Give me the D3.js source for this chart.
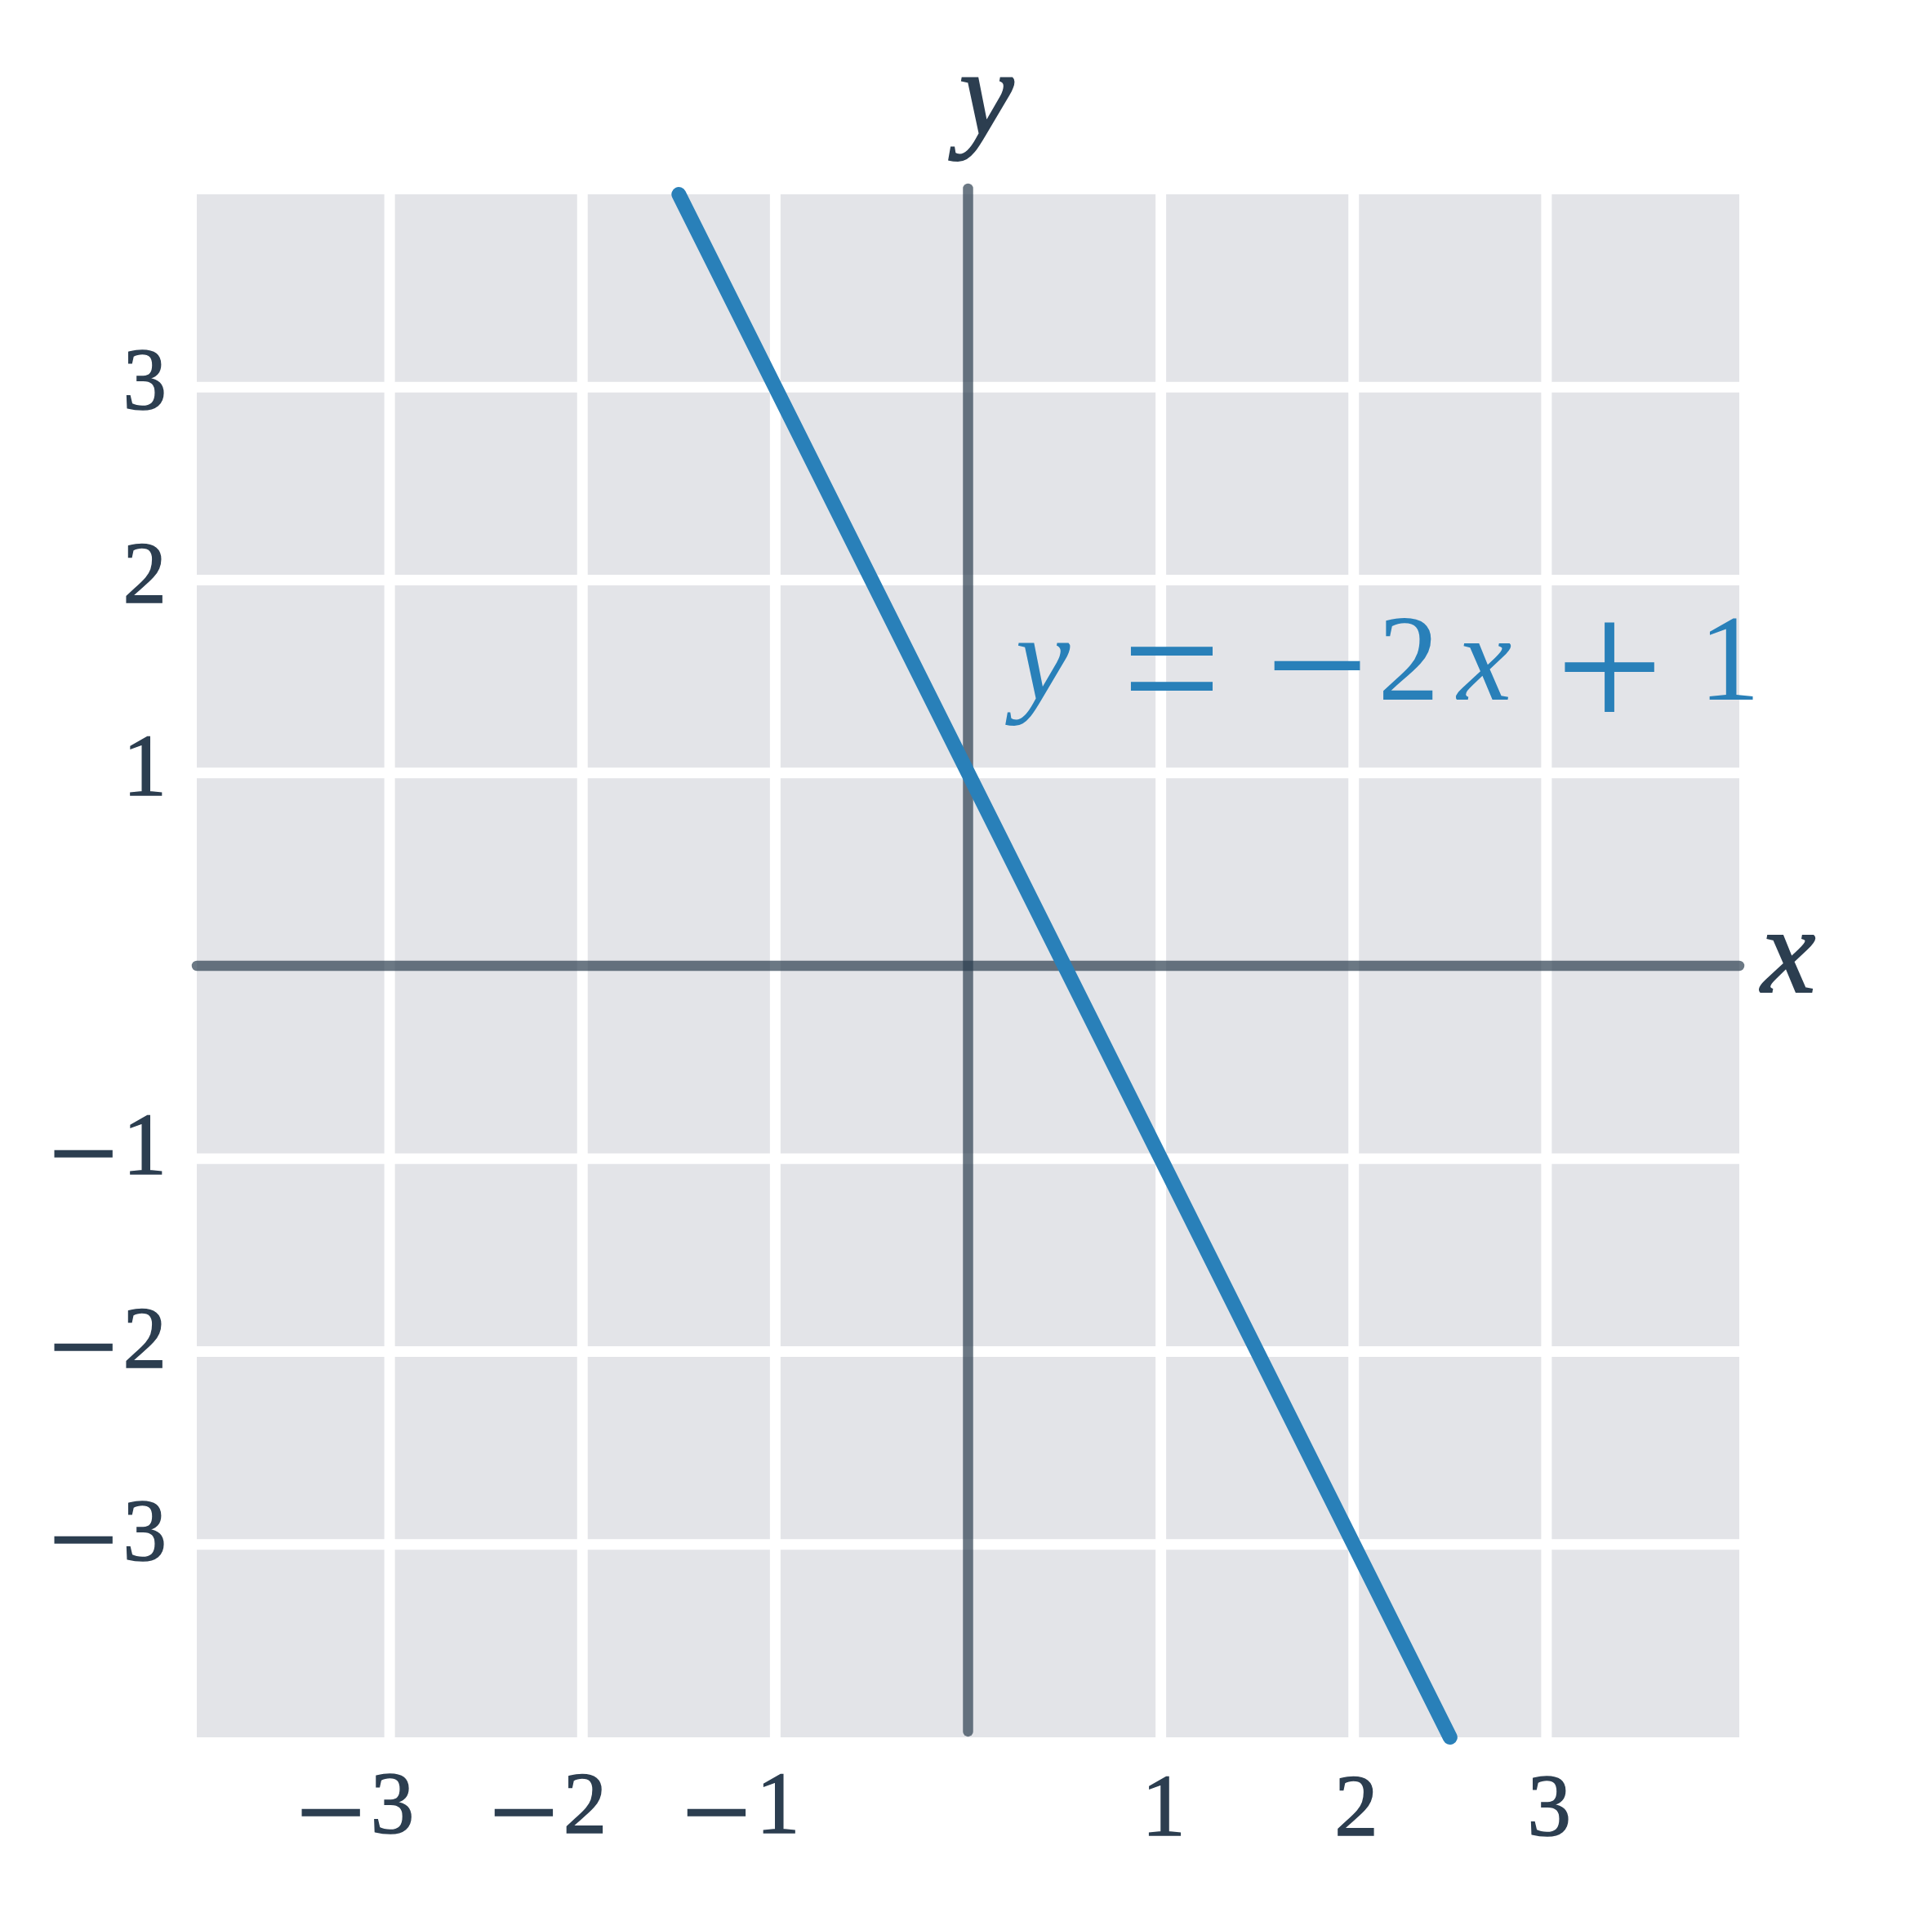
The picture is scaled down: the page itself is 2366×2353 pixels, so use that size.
<!DOCTYPE html>
<html>
<head>
<meta charset="utf-8">
<script src="https://cdn.jsdelivr.net/npm/d3@7"></script>
<style>
  body { margin: 0; background: #ffffff; }
  text { font-family: "Liberation Serif", "Times New Roman", serif; }
</style>
</head>
<body>
<div id="chart"></div>
<script>

// data
var gridValues = [-3, -2, -1, 1, 2, 3]
var xTicks = [-3, -2, -1, 1, 2, 3]
var yTicks = [3, 2, 1, -1, -2, -3]
var lineX = [-1.5, 2.5]
var lineY = [4, -4]
var xAxisExtent = [-4, 4]
var yAxisExtent = [4.03, -3.97]
var equationParts = ["y", "=", "\u2212", "2", "x", "+", "1"]

var width = 2366
var height = 2353

var textColor = "#2c3e50"
var lineColor = "#2980b9"

var x = d3.scaleLinear().domain([-4, 4]).range([241, 2130])
var y = d3.scaleLinear().domain([-4, 4]).range([2128, 238])

var svg = d3.select("#chart")
  .append("svg")
  .attr("width", width)
  .attr("height", height)

svg.append("rect")
  .attr("width", width)
  .attr("height", height)
  .attr("fill", "#ffffff")

// plot background
svg.append("rect")
  .attr("x", x(-4))
  .attr("y", y(4))
  .attr("width", x(4) - x(-4))
  .attr("height", y(-4) - y(4))
  .attr("fill", "#e3e4e8")

// white grid
var grid = svg.append("g")
grid.selectAll(".vgrid")
  .data(gridValues)
  .enter()
  .append("line")
  .attr("class", "vgrid")
  .attr("x1", function(d){ return x(d) })
  .attr("x2", function(d){ return x(d) })
  .attr("y1", y(4))
  .attr("y2", y(-4))
  .style("stroke", "#ffffff")
  .style("stroke-width", 13)

grid.selectAll(".hgrid")
  .data(gridValues)
  .enter()
  .append("line")
  .attr("class", "hgrid")
  .attr("y1", function(d){ return y(d) })
  .attr("y2", function(d){ return y(d) })
  .attr("x1", x(-4))
  .attr("x2", x(4))
  .style("stroke", "#ffffff")
  .style("stroke-width", 13)

// axes
svg.append("line")
  .attr("x1", x(xAxisExtent[0]))
  .attr("x2", x(xAxisExtent[1]))
  .attr("y1", y(0))
  .attr("y2", y(0))
  .style("stroke", textColor)
  .style("stroke-opacity", 0.7)
  .style("stroke-width", 12.5)
  .style("stroke-linecap", "round")

svg.append("line")
  .attr("x1", x(0))
  .attr("x2", x(0))
  .attr("y1", y(yAxisExtent[0]))
  .attr("y2", y(yAxisExtent[1]))
  .style("stroke", textColor)
  .style("stroke-opacity", 0.7)
  .style("stroke-width", 12.5)
  .style("stroke-linecap", "round")

// the graph
var pts = lineX.map(function(d, i){ return [d, lineY[i]] })
svg.append("path")
  .datum(pts)
  .attr("d", d3.line().x(function(d){ return x(d[0]) }).y(function(d){ return y(d[1]) }))
  .style("fill", "none")
  .style("stroke", lineColor)
  .style("stroke-width", 18)
  .style("stroke-linecap", "round")

// tick labels (digit centred on the tick, minus hangs to the left)
function addLabel(sel, v){
  if(v < 0){
    sel.append("tspan")
      .attr("font-size", 150)
      .attr("dy", 25)
      .text("\u2212")
    sel.append("tspan")
      .attr("dx", 6)
      .attr("dy", -25)
      .text(Math.abs(v))
  } else {
    sel.text(v)
  }
}

svg.selectAll(".xlabel")
  .data(xTicks)
  .enter()
  .append("text")
  .attr("class", "xlabel")
  .attr("x", function(d){ return x(d) + 30 })
  .attr("y", function(d){ return d < 0 ? 2245 : 2248 })
  .attr("text-anchor", "end")
  .attr("font-size", 107)
  .attr("fill", textColor)
  .attr("stroke", textColor)
  .attr("stroke-width", 1.5)
  .each(function(d){ addLabel(d3.select(this), d) })

svg.selectAll(".ylabel")
  .data(yTicks)
  .enter()
  .append("text")
  .attr("class", "ylabel")
  .attr("x", 204)
  .attr("y", function(d){ return y(d) + (d < 0 ? 19 : 27) })
  .attr("text-anchor", "end")
  .attr("font-size", 107)
  .attr("fill", textColor)
  .attr("stroke", textColor)
  .attr("stroke-width", 1.5)
  .each(function(d){ addLabel(d3.select(this), d) })

// axis names
svg.append("text")
  .attr("x", 2190)
  .attr("y", 1215)
  .attr("text-anchor", "middle")
  .attr("font-size", 150)
  .attr("font-style", "italic")
  .attr("fill", textColor)
  .attr("stroke", textColor)
  .attr("stroke-width", 2)
  .text("x")

svg.append("text")
  .attr("x", 1208)
  .attr("y", 165)
  .attr("text-anchor", "middle")
  .attr("font-size", 150)
  .attr("font-style", "italic")
  .attr("fill", textColor)
  .attr("stroke", textColor)
  .attr("stroke-width", 2)
  .text("y")

// equation label
var eqCenters = [1277, 1435, 1613, 1725, 1818, 1971, 2118]
var eq = svg.append("text")
  .attr("text-anchor", "middle")
  .attr("fill", lineColor)
  .attr("font-size", 150)

equationParts.forEach(function(t, i){
  var op = (t == "=" || t == "+" || t == "\u2212")
  var ts = eq.append("tspan")
    .attr("x", eqCenters[i])
    .attr("y", op ? 890 : 857)
    .text(t)
  if(op) ts.attr("font-size", t == "=" ? 215 : (t == "+" ? 235 : 225))
  if(t == "+") ts.attr("y", 895)
  if(t == "x" || t == "y") ts.attr("font-style", "italic")
})

</script>
</body>
</html>
